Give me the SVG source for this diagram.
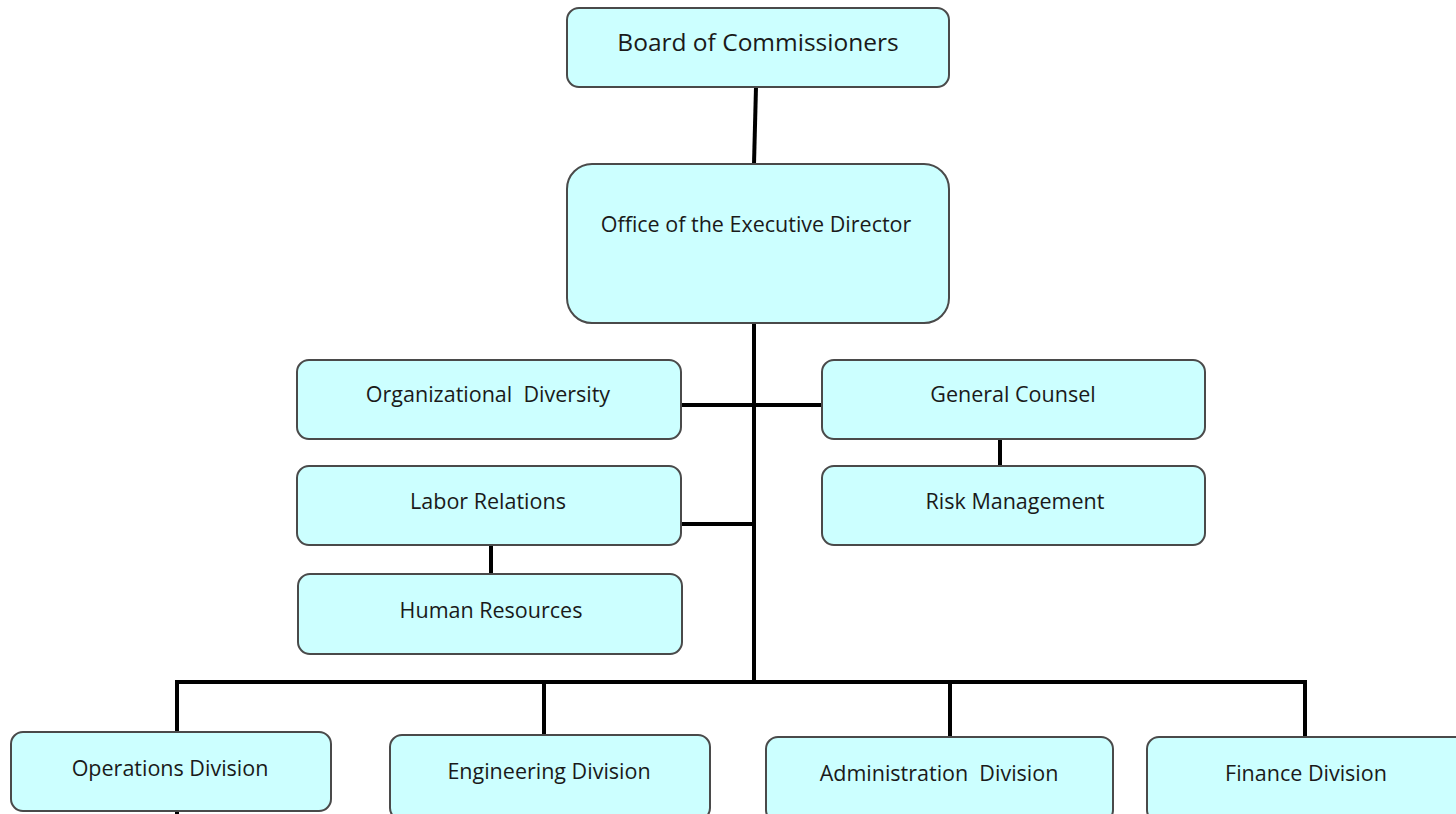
<svg xmlns="http://www.w3.org/2000/svg" width="1456" height="814" viewBox="0 0 1456 814">
<style>
.box{fill:#CCFFFF;stroke:#4a4a4a;stroke-width:2}
.t{font-family:"Open Sans","Noto Sans","DejaVu Sans",sans-serif;font-size:21.5px;fill:#1a1a1a;text-anchor:middle;white-space:pre}
.big{font-size:24.5px}
.c{stroke:#000;stroke-width:4;fill:none;stroke-linecap:butt}
</style>
<rect width="1456" height="814" fill="#fff"/>
<g id="connectors">
<line class="c" x1="756" y1="87" x2="754" y2="164"/>
<line class="c" x1="754" y1="323" x2="754" y2="684"/>
<line class="c" x1="681" y1="405" x2="822" y2="405"/>
<line class="c" x1="1000" y1="439" x2="1000" y2="466"/>
<line class="c" x1="681" y1="524" x2="754" y2="524"/>
<line class="c" x1="491" y1="545" x2="491" y2="574"/>
<path class="c" d="M177 732 V682 H1305 V737"/>
<line class="c" x1="544" y1="682" x2="544" y2="735"/>
<line class="c" x1="950" y1="682" x2="950" y2="737"/>
<line class="c" x1="177" y1="811" x2="177" y2="816"/>
</g>
<g id="board"><rect class="box" x="567" y="8" width="382" height="79" rx="12"/><text class="t big" x="758" y="51">Board of Commissioners</text></g>
<g id="office"><rect class="box" x="567" y="164" width="382" height="159" rx="25"/><text class="t" x="756" y="232">Office of the Executive Director</text></g>
<g id="orgdiv"><rect class="box" x="297" y="360" width="384" height="79" rx="12"/><text class="t" x="488" y="402" xml:space="preserve">Organizational  Diversity</text></g>
<g id="counsel"><rect class="box" x="822" y="360" width="383" height="79" rx="12"/><text class="t" x="1013" y="402">General Counsel</text></g>
<g id="labor"><rect class="box" x="297" y="466" width="384" height="79" rx="12"/><text class="t" x="488" y="509">Labor Relations</text></g>
<g id="risk"><rect class="box" x="822" y="466" width="383" height="79" rx="12"/><text class="t" x="1015" y="509">Risk Management</text></g>
<g id="hr"><rect class="box" x="298" y="574" width="384" height="80" rx="12"/><text class="t" x="491" y="618">Human Resources</text></g>
<g id="operations"><rect class="box" x="11" y="732" width="320" height="79" rx="12"/><text class="t" x="170" y="776">Operations Division</text></g>
<g id="engineering"><rect class="box" x="390" y="735" width="320" height="85" rx="12"/><text class="t" x="549" y="779">Engineering Division</text></g>
<g id="administration"><rect class="box" x="766" y="737" width="347" height="85" rx="12"/><text class="t" x="939" y="781" xml:space="preserve">Administration  Division</text></g>
<g id="finance"><rect class="box" x="1147" y="737" width="320" height="85" rx="12"/><text class="t" x="1306" y="781">Finance Division</text></g>
</svg>
